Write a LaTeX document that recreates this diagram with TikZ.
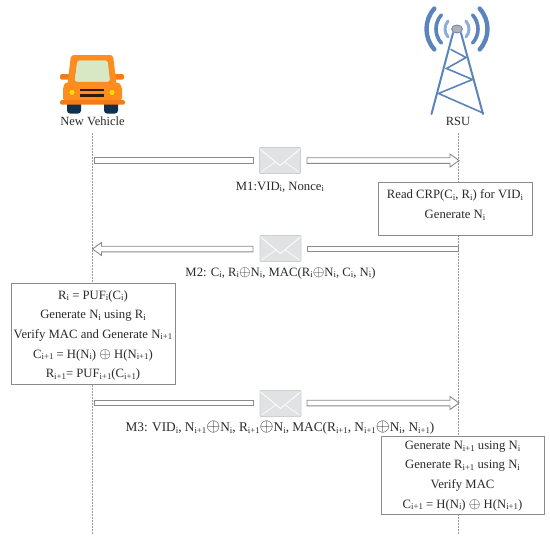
\documentclass[tikz,border=0pt]{standalone}
\usepackage{fontspec}
\setmainfont{Liberation Serif}
\usetikzlibrary{arrows.meta,calc}
\definecolor{txt}{HTML}{2A2A2A}
\definecolor{boxline}{HTML}{8A8A8A}
\definecolor{life}{HTML}{9A9A9A}
\definecolor{orangeA}{HTML}{FF8C1E}
\definecolor{orangeB}{HTML}{F57C14}
\definecolor{glass}{HTML}{D9E8C4}
\definecolor{tyre}{HTML}{12304A}
\definecolor{blueA}{HTML}{5B84BC}
\definecolor{blueB}{HTML}{8FAED4}
\definecolor{envfill}{HTML}{E0E2E3}
\definecolor{envedge}{HTML}{CDD0D2}
\newcommand{\sbs}[1]{\raisebox{-.3ex}{\fontsize{8.8}{10}\selectfont #1}}
\newcommand{\xor}{\scalebox{1.25}{$\oplus$}}
\newcommand{\envflaps}[1]{%
  \draw[white,line width=1pt,opacity=.85] ($(#1.north west)+(1,2)$) -- ($(#1.center)+(0,5)$) -- ($(#1.north east)+(-1,2)$);
  \draw[white,line width=.8pt,opacity=.85] ($(#1.south west)+(2,-2)$) -- ($(#1.center)+(-4,1)$);
  \draw[white,line width=.8pt,opacity=.85] ($(#1.south east)+(-2,-2)$) -- ($(#1.center)+(4,1)$);
}
% hollow shaft (closed bar) between two named coordinates
\newcommand{\hollowbar}[2]{\draw[shaftline] ($(#1)+(0,-2.8)$) rectangle ($(#2)+(0,2.8)$);}
% hollow arrow from #1 to #2; #3 = +1 rightwards, -1 leftwards
\newcommand{\hollowarrow}[3]{\draw[shaftline] ($(#1)+(0,-2.8)$) -- ($(#2)+(-9*#3,-2.8)$) -- ($(#2)+(-9*#3,-6.5)$) -- (#2) -- ($(#2)+(-9*#3,6.5)$) -- ($(#2)+(-9*#3,2.8)$) -- ($(#1)+(0,2.8)$) -- cycle;}
\tikzset{
  x=1pt,y=-1pt,
  every node/.style={text=txt,font=\fontsize{12.5}{14}\selectfont,inner sep=0pt},
  lifeline/.style={life,line width=.6pt,dash pattern=on 1.5pt off 1.5pt},
  procbox/.style={draw=boxline,line width=.9pt,fill=white,rectangle},
  envelope/.style={rectangle,rounded corners=1pt,draw=envedge,line width=.8pt,fill=envfill,minimum width=41pt,minimum height=26pt},
  shaftline/.style={draw=boxline,line width=.9pt,fill=white,line join=miter},
  msg/.style={font=\fontsize{12.7}{14}\selectfont},
  msgwide/.style={font=\fontsize{13.3}{14}\selectfont},
  row/.style={font=\fontsize{12.7}{14}\selectfont},
}
\begin{document}
\begin{tikzpicture}
\useasboundingbox (0,0) rectangle (550,542);
% car
\fill[tyre,rounded corners=3pt] (67,100) rectangle (81,113.5);
\fill[tyre,rounded corners=3pt] (104,100) rectangle (118,113.5);
\fill[orangeB,rounded corners=1.5pt] (60,74) rectangle (72,79.5);
\fill[orangeB,rounded corners=1.5pt] (112,74) rectangle (124,79.5);
\fill[orangeA,rounded corners=3pt] (67,88) -- (71,55) -- (113,55) -- (117,88) -- cycle;
\fill[orangeA,rounded corners=4pt] (63,102) -- (63,85) -- (67,82) -- (117,82) -- (122,85) -- (122,102) -- cycle;
\fill[orangeB,rounded corners=1.5pt] (60,100) rectangle (125,104.5);
\fill[glass,draw=orangeB,line width=.5pt,rounded corners=2.5pt] (77,60) -- (108,60) -- (110.5,82) -- (74,82) -- cycle;
\fill[yellow!80!orange,draw=orangeB] (72,92.5) circle (3);
\fill[yellow!80!orange,draw=orangeB] (112,92.5) circle (3);
\fill[black!80!orange] (80,88.5) rectangle (104,91.2);
\fill[black!80!orange] (80,93.8) rectangle (104,96.5);
\node (veh) at (92.5,121) {New Vehicle};
% tower
\begin{scope}[blueA,line width=2pt,line cap=round]
\draw (453,33) -- (431.5,114);
\draw (461,33) -- (483,114);
\draw[line width=1.6pt] (483,113) -- (438.5,93.5) -- (472.5,79.5) -- (446.5,68.5) -- (466,57.5) -- (451,49.5);
\end{scope}
\fill[gray!60!white,draw=blueA,line width=.8pt] (457,29) ellipse (5.5 and 4);
\begin{scope}[line cap=round]
\foreach \r/\w/\c in {12/3/blueB,21/3.6/blueA,30.5/4.4/blueA}{
  \draw[\c,line width=\w pt] ($(457,29)+(138:\r)$) arc[start angle=138,end angle=222,radius=\r];
  \draw[\c,line width=\w pt] ($(457,29)+(42:\r)$) arc[start angle=42,end angle=-42,radius=\r];
}
\end{scope}
\node (rsu) at (458,121) {RSU};
% lifelines
\coordinate (vehtop) at (92.5,133);
\coordinate (vehend) at (92.5,535);
\coordinate (rsutop) at (458.5,133);
\coordinate (rsuend) at (458.5,535);
\draw[lifeline] (vehtop) -- (vehend);
\draw[lifeline] (rsutop) -- (rsuend);
% envelopes
\node[envelope] (e1) at (280,160.5) {};
\node[envelope] (e2) at (280.5,248.5) {};
\node[envelope] (e3) at (280.5,403.5) {};
\envflaps{e1}\envflaps{e2}\envflaps{e3}
% M1
\coordinate (m1a) at (94,160.5);\coordinate (m1b) at (253.5,160.5);
\coordinate (m1c) at (307,160.5);\coordinate (m1d) at (459,160.5);
\hollowbar{m1a}{m1b}
\hollowarrow{m1c}{m1d}{1}
\node[msg] (l1) at (280,187) {M1:VID\sbs{i}, Nonce\sbs{i}};
% M2
\coordinate (m2a) at (458.5,249);\coordinate (m2b) at (307,249);
\coordinate (m2c) at (253,249);\coordinate (m2d) at (92.5,249);
\hollowbar{m2b}{m2a}
\hollowarrow{m2c}{m2d}{-1}
\node[msg] (l2) at (280.5,273) {M2: C\sbs{i}, R\sbs{i}\xor N\sbs{i}, MAC(R\sbs{i}\xor N\sbs{i}, C\sbs{i}, N\sbs{i})};
% M3
\coordinate (m3a) at (94,403);\coordinate (m3b) at (253,403);
\coordinate (m3c) at (307,403);\coordinate (m3d) at (459,403);
\hollowbar{m3a}{m3b}
\hollowarrow{m3c}{m3d}{1}
\node[msgwide] (l3) at (280,428) {M3: VID\sbs{i}, N\sbs{i+1}\xor N\sbs{i}, R\sbs{i+1}\xor N\sbs{i}, MAC(R\sbs{i+1}, N\sbs{i+1}\xor N\sbs{i}, N\sbs{i+1})};
% boxes
\node[procbox,minimum width=154pt,minimum height=53pt] (b1) at (455,209) {};
\node[row] (b1a) at (455,195.5) {Read CRP(C\sbs{i}, R\sbs{i}) for VID\sbs{i}};
\node[row] (b1b) at (455,215.5) {Generate N\sbs{i}};
\node[procbox,minimum width=164pt,minimum height=101pt] (b2) at (93,334) {};
\node[row] (b2a) at (93,296) {R\sbs{i} = PUF\sbs{i}(C\sbs{i})};
\node[row] (b2b) at (93,315.5) {Generate N\sbs{i} using R\sbs{i}};
\node[row] (b2c) at (93,335) {Verify MAC and Generate N\sbs{i+1}};
\node[row] (b2d) at (93,355) {C\sbs{i+1} = H(N\sbs{i}) \xor{} H(N\sbs{i+1})};
\node[row] (b2e) at (93,374.5) {R\sbs{i+1}= PUF\sbs{i+1}(C\sbs{i+1})};
\node[procbox,minimum width=163pt,minimum height=78pt] (b3) at (462.5,475) {};
\node[row] (b3a) at (462.5,446.5) {Generate N\sbs{i+1} using N\sbs{i}};
\node[row] (b3b) at (462.5,466) {Generate R\sbs{i+1} using N\sbs{i}};
\node[row] (b3c) at (462.5,485.5) {Verify MAC};
\node[row] (b3d) at (462.5,505) {C\sbs{i+1} = H(N\sbs{i}) \xor{} H(N\sbs{i+1})};
\end{tikzpicture}
\end{document}
